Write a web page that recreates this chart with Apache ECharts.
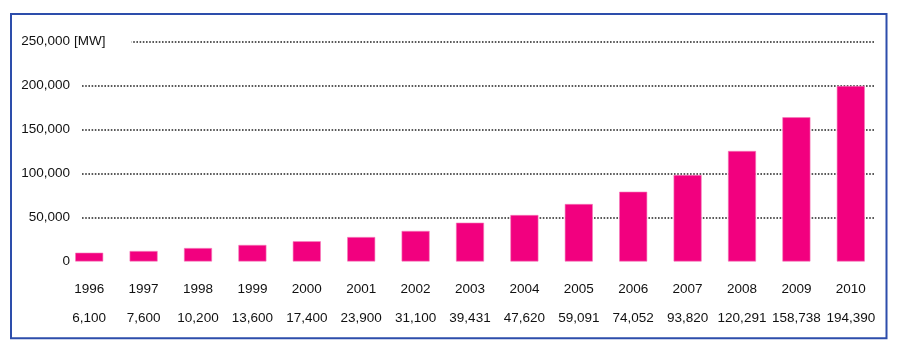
<!DOCTYPE html>
<html>
<head>
<meta charset="utf-8">
<script src="https://cdn.jsdelivr.net/npm/echarts@6/dist/echarts.min.js"></script>
<style>
  html, body { margin: 0; padding: 0; background: #fff; }
  #chart { width: 897px; height: 350px; }
</style>
</head>
<body>
<div id="chart"></div>
<script>
// ---- data ----
const years = ['1996','1997','1998','1999','2000','2001','2002','2003','2004','2005','2006','2007','2008','2009','2010'];
// printed capacity values under each year [MW]
const capacityMW = [6100, 7600, 10200, 13600, 17400, 23900, 31100, 39431, 47620, 59091, 74052, 93820, 120291, 158738, 194390];
// bar heights [MW]
const barHeightsMW = [10000, 11900, 15300, 18800, 23000, 27800, 34700, 44100, 52800, 65300, 79300, 98300, 125600, 163900, 199400];
const yTicks = [0, 50000, 100000, 150000, 200000, 250000];
const yUnit = '[MW]';

const fmt = v => Number(v).toLocaleString('en-US');
const FONT = 'Liberation Sans';
const FS = 13.5;
const TXT = '#111';

const chart = echarts.init(document.getElementById('chart'), null, { renderer: 'canvas' });
const yMin = yTicks[0], yMax = yTicks[yTicks.length - 1], yStep = yTicks[1] - yTicks[0];

chart.setOption({
  animation: false,
  backgroundColor: '#fff',
  grid: [
    { left: 82, right: 22, top: 41.5, bottom: 88.5 },
    { left: 62, right: 19, top: 41.5, bottom: 88.5 }
  ],
  xAxis: [
    { gridIndex: 0, type: 'category', data: years, show: false },
    {
      gridIndex: 1, type: 'category', data: years,
      axisLine: { show: false }, axisTick: { show: false },
      axisLabel: {
        margin: 13,
        interval: 0,
        formatter: (val, idx) => '{y|' + val + '}\n{v|' + fmt(capacityMW[idx]) + '}',
        rich: {
          y: { fontFamily: FONT, fontSize: FS, color: TXT, lineHeight: 29 },
          v: { fontFamily: FONT, fontSize: FS, color: TXT, lineHeight: 29 }
        }
      }
    }
  ],
  yAxis: [
    {
      gridIndex: 0, type: 'value', min: yMin, max: yMax, interval: yStep,
      axisLine: { show: false }, axisTick: { show: false },
      axisLabel: { margin: 12, fontFamily: FONT, fontSize: FS, color: TXT, formatter: v => fmt(v) },
      splitLine: {
        show: true,
        lineStyle: {
          color: ['rgba(0,0,0,0)', '#222', '#222', '#222', '#222', '#222'],
          width: 1.6, type: [1.6, 1.6]
        }
      }
    },
    {
      gridIndex: 1, type: 'value', min: yMin, max: yMax, interval: yStep, show: false
    }
  ],
  series: [
    {
      type: 'bar', xAxisIndex: 1, yAxisIndex: 1,
      data: barHeightsMW, barWidth: 28,
      itemStyle: { color: '#F2007F', borderColor: '#f57ab8', borderWidth: 0.6 }
    }
  ],
  graphic: [
    {
      type: 'text', z: 100, x: 74, y: 41.5,
      style: {
        text: yUnit, font: FS + 'px "' + FONT + '"', fill: TXT,
        verticalAlign: 'middle', align: 'left',
        backgroundColor: '#fff', padding: [4, 26, 4, 0]
      }
    },
    {
      type: 'rect', z: 100,
      shape: { x: 11, y: 14, width: 875.5, height: 324.3 },
      style: { fill: 'none', stroke: '#2d4dab', lineWidth: 2 }
    }
  ]
});
</script>
</body>
</html>
